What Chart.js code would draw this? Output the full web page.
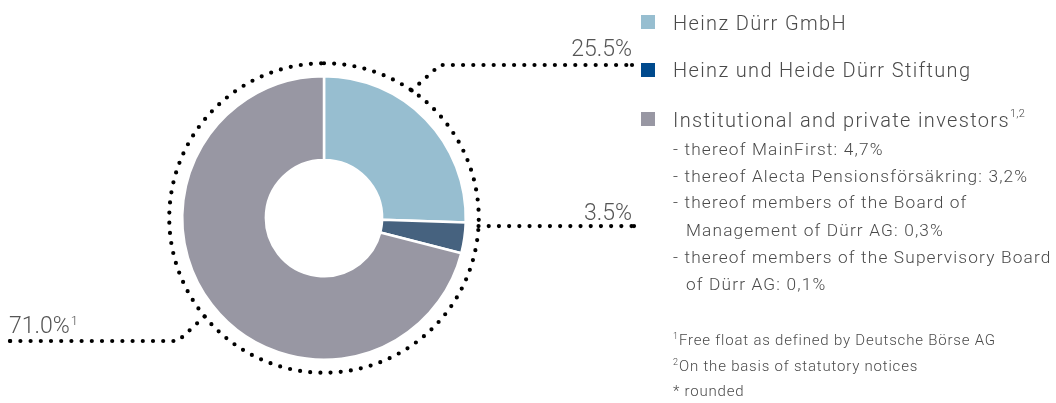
<!DOCTYPE html>
<html><head><meta charset="utf-8">
<script src="https://cdn.jsdelivr.net/npm/chart.js@4"></script>
<style>
html,body{margin:0;padding:0;background:#fff;}
#wrap{position:relative;width:1056px;height:403px;overflow:hidden;font-family:Roboto,"Liberation Sans",sans-serif;color:#4a4a4a;}
canvas{position:absolute;left:0;top:0;}
.sw{position:absolute;left:641px;width:14px;height:14px;}
.lt{position:absolute;left:673px;white-space:nowrap;font-size:20px;font-weight:300;line-height:1;letter-spacing:1.35px;}
.sub{position:absolute;white-space:nowrap;font-size:17.3px;font-weight:300;line-height:1;letter-spacing:1.15px;}
.fn{position:absolute;white-space:nowrap;font-size:15px;font-weight:300;line-height:1;letter-spacing:0.8px;}
.fs{position:absolute;left:673px;font-size:9px;font-weight:300;line-height:1;}
sup{font-size:11px;vertical-align:top;position:relative;top:-2px;letter-spacing:0.3px;}
</style></head>
<body><div id="wrap"><canvas id="c" width="1056" height="403"></canvas><div id="legend"></div></div>
<script>
const categories = ["Heinz Dürr GmbH", "Heinz und Heide Dürr Stiftung", "Institutional and private investors"];
const shares = [25.5, 3.5, 71.0];
const sliceColors = ["#97bed0", "#46627f", "#9897a3"];
const legendColors = ["#97bed0", "#004a8d", "#9897a3"];
const labelSuffix = ["", "", "1"];
const legendSup = ["", "", "1,2"];
const subLines = [
  ["- thereof MainFirst: 4,7%", false],
  ["- thereof Alecta Pensionsförsäkring: 3,2%", false],
  ["- thereof members of the Board of", false],
  ["Management of Dürr AG: 0,3%", true],
  ["- thereof members of the Supervisory Board", false],
  ["of Dürr AG: 0,1%", true]
];
const footnotes = [["1","Free float as defined by Deutsche Börse AG"],["2","On the basis of statutory notices"],["*","rounded"]];

// HTML legend
const lg = document.getElementById('legend');
const swatchY = [15, 63, 112];
const titleY = [12.5, 60.2, 110.2];
let html = '';
categories.forEach((c,i)=>{
  html += `<div class="sw" style="top:${swatchY[i]}px;background:${legendColors[i]}"></div>`;
  html += `<div class="lt" style="top:${titleY[i]}px">${c}${legendSup[i]?'<sup>'+legendSup[i]+'</sup>':''}</div>`;
});
const subY = [140.5, 167.5, 193.5, 221.5, 248.5, 275.5];
subLines.forEach((s,i)=>{ html += `<div class="sub" style="top:${subY[i]}px;left:${s[1]?686:673}px">${s[0]}</div>`; });
const fnY = [333.4, 359.4, 384.4];
footnotes.forEach((f,i)=>{
  if (f[0] === '*') html += `<div class="fn" style="top:${fnY[i]}px;left:673px">* ${f[1]}</div>`;
  else html += `<div class="fs" style="top:${fnY[i]-1}px">${f[0]}</div><div class="fn" style="top:${fnY[i]}px;left:679px">${f[1]}</div>`;
});
lg.innerHTML = html;

// leader line layout (angles in degrees clockwise from top, on dotted ring)
const leaders = [
  {angle: 34.5, elbow: [440, 65], end: 632, align: 'right', lx: 632, ly: 56},
  {angle: 93.0, elbow: null, end: 634, align: 'right', lx: 632, ly: 220},
  {angle: 230.5, elbow: [178, 341], end: 10, align: 'left', lx: 9, ly: 333}
];

const deco = {
  id: 'deco',
  afterDatasetsDraw(chart) {
    const ctx = chart.ctx;
    const arc = chart.getDatasetMeta(0).data[0];
    const cx = arc.x, cy = arc.y, R = arc.outerRadius + 13;
    ctx.save();
    ctx.strokeStyle = '#000';
    ctx.fillStyle = '#000';
    ctx.lineWidth = 4.2;
    ctx.lineCap = 'round';
    ctx.setLineDash([0, 10.2]);
    ctx.beginPath();
    ctx.arc(cx, cy, R, -Math.PI/2, 1.5*Math.PI);
    ctx.stroke();
    leaders.forEach((L, i) => {
      const a = L.angle * Math.PI / 180;
      const sx = cx + R * Math.sin(a), sy = cy - R * Math.cos(a);
      const ey = L.elbow ? L.elbow[1] : sy;
      ctx.beginPath();
      ctx.moveTo(sx, sy);
      if (L.elbow) ctx.lineTo(L.elbow[0], L.elbow[1]);
      ctx.lineTo(L.end, ey);
      ctx.stroke();
      ctx.beginPath();
      ctx.arc(L.end, ey, 2.1, 0, Math.PI * 2);
      ctx.fill();
    });
    ctx.setLineDash([]);
    ctx.fillStyle = '#555';
    ctx.textBaseline = 'alphabetic';
    leaders.forEach((L, i) => {
      const txt = shares[i].toFixed(1) + '%';
      ctx.font = '300 23px Roboto';
      if (L.align === 'right') {
        ctx.textAlign = 'right';
        ctx.fillText(txt, L.lx, L.ly);
      } else {
        ctx.textAlign = 'left';
        ctx.fillText(txt, L.lx, L.ly);
        const w = ctx.measureText(txt).width;
        if (labelSuffix[i]) {
          ctx.font = '300 13px Roboto';
          ctx.fillText(labelSuffix[i], L.lx + w + 1, L.ly - 8);
        }
      }
    });
    ctx.restore();
  }
};

new Chart(document.getElementById('c'), {
  type: 'doughnut',
  data: {
    labels: categories,
    datasets: [{
      data: shares,
      backgroundColor: sliceColors,
      borderColor: '#ffffff',
      borderWidth: 2.5,
      hoverOffset: 0
    }]
  },
  options: {
    responsive: false,
    devicePixelRatio: 1,
    animation: false,
    cutout: '41%',
    rotation: 0,
    layout: { padding: { left: 181, right: 589, top: 75, bottom: 42 } },
    events: [],
    plugins: { legend: { display: false }, tooltip: { enabled: false } }
  },
  plugins: [deco]
});
</script>
</body></html>
